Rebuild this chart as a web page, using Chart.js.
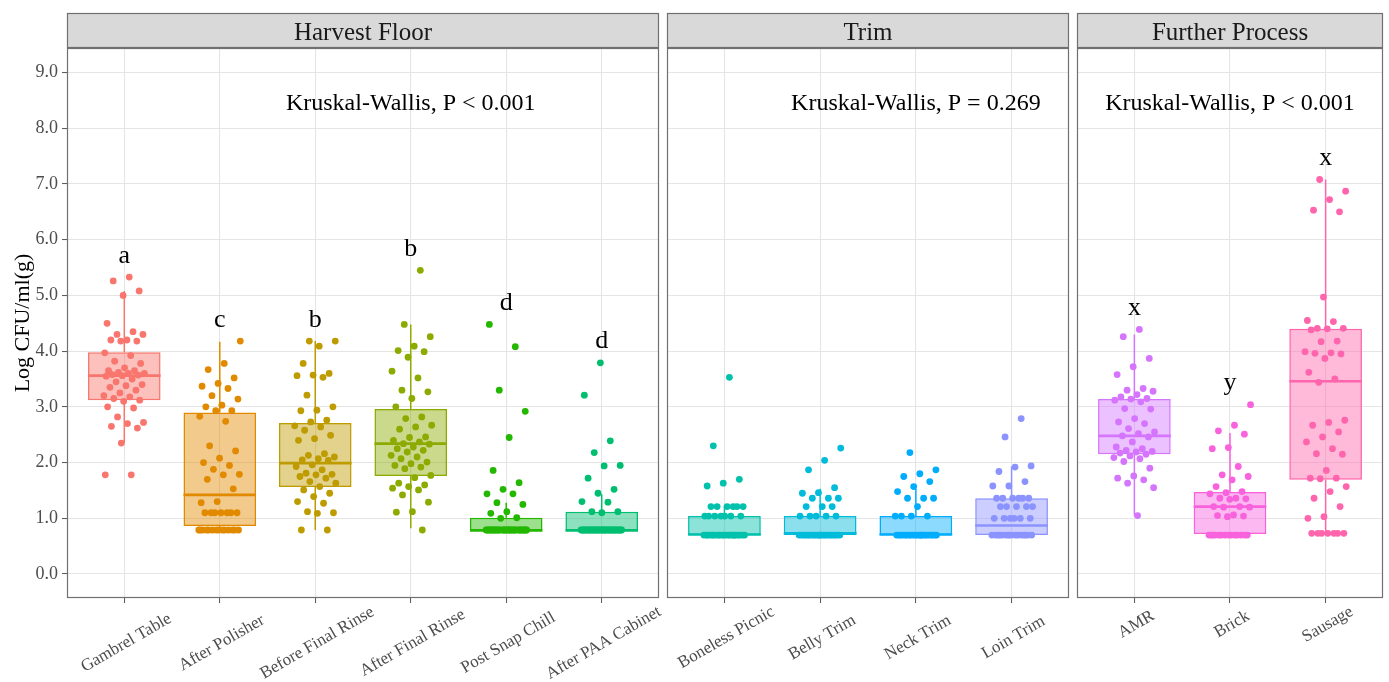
<!DOCTYPE html>
<html><head><meta charset="utf-8">
<script src="https://cdn.jsdelivr.net/npm/chart.js@4.4.0/dist/chart.umd.min.js"></script>
<style>
html,body{margin:0;padding:0;background:#fff;width:1389px;height:682px;overflow:hidden;position:relative;}
canvas{position:absolute;top:0;}
</style></head><body>
<canvas id="c1" width="700" height="682" style="left:0px"></canvas>
<canvas id="c2" width="410" height="682" style="left:663px"></canvas>
<canvas id="c3" width="316" height="682" style="left:1073px"></canvas>
<script>
// ---------- data ----------
const facetTitles = ['Harvest Floor', 'Trim', 'Further Process'];
const kruskalLabels = ['Kruskal-Wallis, P < 0.001', 'Kruskal-Wallis, P = 0.269', 'Kruskal-Wallis, P < 0.001'];
const yTickValues = [0, 1, 2, 3, 4, 5, 6, 7, 8, 9];
const yAxisTitle = 'Log CFU/ml(g)';

const harvestCategories = ['Gambrel Table', 'After Polisher', 'Before Final Rinse', 'After Final Rinse', 'Post Snap Chill', 'After PAA Cabinet'];
const trimCategories = ['Boneless Picnic', 'Belly Trim', 'Neck Trim', 'Loin Trim'];
const furtherCategories = ['AMR', 'Brick', 'Sausage'];

const gambrelTable = [5.33,5.26,5.08,5.00,4.50,4.35,4.30,4.30,4.20,4.20,4.18,4.18,3.97,3.92,3.82,3.78,3.70,3.65,3.65,3.62,3.60,3.60,3.58,3.57,3.56,3.55,3.50,3.45,3.40,3.38,3.35,3.30,3.25,3.20,3.18,3.15,3.12,3.10,3.00,2.98,2.82,2.72,2.70,2.65,2.62,2.35,1.78,1.78];
const afterPolisher = [4.18,3.78,3.67,3.52,3.42,3.37,3.33,3.20,3.14,3.03,3.00,2.93,2.93,2.83,2.74,2.30,2.21,2.08,2.00,1.95,1.88,1.79,1.78,1.70,1.53,1.30,1.28,1.10,1.10,1.10,1.10,1.10,1.10,1.10,0.79,0.79,0.79,0.79,0.79,0.79,0.79,0.79,0.79,0.79,0.79,0.79,0.79,0.79];
const beforeFinalRinse = [4.18,4.18,4.09,3.78,3.60,3.57,3.56,3.53,3.21,3.00,2.94,2.93,2.76,2.73,2.66,2.64,2.58,2.49,2.43,2.40,2.16,2.13,2.10,2.07,2.05,2.04,1.96,1.93,1.87,1.81,1.79,1.78,1.75,1.72,1.66,1.63,1.57,1.51,1.45,1.39,1.30,1.27,1.12,1.10,1.09,0.79,0.79];
const afterFinalRinse = [5.45,4.48,4.26,4.09,4.01,3.99,3.89,3.64,3.52,3.30,3.27,3.15,3.00,2.82,2.79,2.67,2.64,2.60,2.46,2.45,2.40,2.37,2.34,2.33,2.28,2.25,2.22,2.19,2.13,2.10,2.07,2.01,1.98,1.95,1.92,1.89,1.77,1.73,1.63,1.60,1.57,1.54,1.51,1.42,1.29,1.12,1.11,0.79];
const postSnapChill = [4.48,4.08,3.30,2.92,2.45,1.86,1.64,1.52,1.44,1.44,1.28,1.25,1.12,1.09,1.01,1.00,0.79,0.79,0.79,0.79,0.79,0.79,0.79,0.79,0.79,0.79,0.79,0.79,0.79,0.79,0.79,0.79,0.79,0.79,0.79,0.79,0.79,0.79,0.79,0.79,0.79,0.79,0.79,0.79,0.79,0.79,0.79,0.79];
const afterPaaCabinet = [3.79,3.21,2.39,2.18,1.95,1.94,1.72,1.52,1.45,1.30,1.29,1.12,1.12,1.10,0.79,0.79,0.79,0.79,0.79,0.79,0.79,0.79,0.79,0.79,0.79,0.79,0.79,0.79,0.79,0.79,0.79,0.79,0.79,0.79,0.79,0.79,0.79,0.79,0.79,0.79,0.79,0.79,0.79,0.79,0.79,0.79,0.79,0.79];

const bonelessPicnic = [3.53,2.30,1.70,1.63,1.58,1.21,1.21,1.21,1.21,1.21,1.21,1.04,1.04,1.04,1.04,1.04,1.04,1.04,0.70,0.70,0.70,0.70,0.70,0.70,0.70,0.70,0.70,0.70,0.70,0.70,0.70,0.70,0.70,0.70,0.70,0.70,0.70,0.70,0.70,0.70];
const bellyTrim = [2.26,2.04,1.87,1.55,1.46,1.45,1.36,1.36,1.36,1.21,1.21,1.21,1.04,1.04,1.04,1.04,1.04,0.70,0.70,0.70,0.70,0.70,0.70,0.70,0.70,0.70,0.70,0.70,0.70,0.70,0.70,0.70,0.70,0.70,0.70,0.70,0.70,0.70,0.70];
const neckTrim = [2.18,1.87,1.80,1.75,1.66,1.57,1.48,1.36,1.36,1.36,1.21,1.04,1.04,1.04,1.04,0.70,0.70,0.70,0.70,0.70,0.70,0.70,0.70,0.70,0.70,0.70,0.70,0.70,0.70,0.70,0.70,0.70,0.70,0.70,0.70,0.70,0.70];
const loinTrim = [2.79,2.46,1.94,1.92,1.84,1.66,1.58,1.58,1.36,1.36,1.36,1.36,1.36,1.36,1.21,1.21,1.21,1.21,1.21,1.00,1.00,1.00,1.00,1.00,1.00,0.70,0.70,0.70,0.70,0.70,0.70,0.70,0.70,0.70,0.70,0.70,0.70,0.70,0.70,0.70,0.70];

const amr = [4.39,4.26,3.87,3.72,3.58,3.33,3.30,3.28,3.22,3.18,3.15,3.14,3.12,3.09,2.97,2.96,2.79,2.73,2.70,2.61,2.55,2.52,2.48,2.46,2.37,2.28,2.25,2.22,2.20,2.19,2.17,2.15,2.12,2.09,2.07,2.02,1.90,1.76,1.72,1.69,1.63,1.55,1.05];
const brick = [3.04,2.67,2.57,2.51,2.27,2.25,1.93,1.78,1.75,1.69,1.57,1.48,1.46,1.44,1.36,1.36,1.35,1.34,1.21,1.21,1.20,1.20,1.06,1.05,1.04,1.03,0.70,0.70,0.70,0.70,0.70,0.70,0.70,0.70,0.70,0.70,0.70,0.70,0.70,0.70];
const sausage = [7.08,6.87,6.72,6.53,6.50,4.97,4.55,4.53,4.41,4.41,4.40,4.38,4.18,4.17,3.99,3.97,3.96,3.95,3.87,3.62,3.50,3.44,2.76,2.72,2.67,2.55,2.46,2.37,2.25,2.16,2.15,1.86,1.72,1.72,1.71,1.57,1.48,1.36,1.21,1.03,1.00,0.73,0.73,0.73,0.73,0.73,0.73,0.73];

// box statistics
const harvestLowerWhisker = [2.35, 0.79, 0.79, 0.82, 0.78, 0.78];
const harvestQ1           = [3.12, 0.86, 1.56, 1.76, 0.78, 0.78];
const harvestMedian       = [3.56, 1.42, 1.99, 2.34, 0.78, 0.78];
const harvestQ3           = [3.98, 2.90, 2.71, 2.96, 1.01, 1.12];
const harvestUpperWhisker = [5.08, 4.17, 4.18, 4.48, 1.28, 1.43];
const harvestLetters      = ['a', 'c', 'b', 'b', 'd', 'd'];

const trimLowerWhisker = [0.70, 0.70, 0.70, 0.70];
const trimQ1           = [0.70, 0.70, 0.70, 0.70];
const trimMedian       = [0.71, 0.73, 0.71, 0.87];
const trimQ3           = [1.04, 1.04, 1.04, 1.36];
const trimUpperWhisker = [1.21, 1.53, 1.53, 1.93];
const trimLetters      = ['', '', '', ''];

const furtherLowerWhisker = [1.05, 0.72, 0.72];
const furtherQ1           = [2.15, 0.72, 1.69];
const furtherMedian       = [2.48, 1.21, 3.46];
const furtherQ3           = [3.14, 1.47, 4.40];
const furtherUpperWhisker = [4.30, 2.53, 7.08];
const furtherLetters      = ['x', 'y', 'x'];

// ---------- styles ----------
const palette = ['#F8766D','#E18A00','#BE9C00','#8CAB00','#24B700','#00BE70','#00C1AB','#00BBDA','#00ACFC','#8B93FF','#D575FE','#F962DD','#FF65AC'];
const SERIF = '"Liberation Serif", "Times New Roman", serif';
const BOX_HALF = 0.38;
const JITTER = 0.22;
const Y_MIN = -0.43, Y_MAX = 9.44;
const KRUSKAL_Y = 8.33;
const LETTER_GAP = 0.26;
const GRID = '#E5E5E5';
const FRAME = '#707070';

Chart.defaults.font.family = SERIF;

function rgba(hex, a) {
  const n = parseInt(hex.slice(1), 16);
  return 'rgba(' + (n >> 16) + ',' + ((n >> 8) & 255) + ',' + (n & 255) + ',' + a + ')';
}
function jitter(i, j) {
  const f = ((j + 1) * 0.6180339887 + i * 0.37) % 1;
  return (f - 0.5) * 2 * JITTER;
}

const facetDecor = {
  id: 'facetDecor',
  afterDatasetsDraw(chart, args, o) {
    const ctx = chart.ctx, xs = chart.scales.x, ys = chart.scales.y;
    ctx.save();
    ctx.fillStyle = '#000';
    ctx.textAlign = 'center';
    ctx.textBaseline = 'alphabetic';
    ctx.font = '26px ' + SERIF;
    o.letters.forEach((l, i) => {
      if (!l) return;
      const top = Math.max.apply(null, o.values[i]);
      ctx.fillText(l, xs.getPixelForValue(i), ys.getPixelForValue(top + LETTER_GAP));
    });
    ctx.font = '24px ' + SERIF;
    ctx.fillText(o.kruskal, xs.getPixelForValue(Math.floor(o.cats.length / 2)), ys.getPixelForValue(KRUSKAL_Y));
    ctx.restore();
  },
  afterDraw(chart, args, o) {
    const ctx = chart.ctx, a = chart.chartArea, xs = chart.scales.x;
    ctx.save();
    // panel frame
    ctx.strokeStyle = FRAME; ctx.lineWidth = 1.2;
    ctx.strokeRect(a.left + 0.5, a.top + 0.5, a.right - a.left - 1, a.bottom - a.top - 1);
    // strip
    const sTop = 13;
    ctx.fillStyle = '#D9D9D9';
    ctx.fillRect(a.left, sTop, a.right - a.left, a.top - sTop);
    ctx.strokeRect(a.left + 0.5, sTop + 0.5, a.right - a.left - 1, a.top - sTop - 1);
    ctx.fillStyle = '#1a1a1a';
    ctx.font = '25px ' + SERIF;
    ctx.textAlign = 'center'; ctx.textBaseline = 'alphabetic';
    ctx.fillText(o.title, (a.left + a.right) / 2, 39.5);
    // rotated category labels, centred under the tick, all labels of a panel share one centre line
    ctx.font = '17px ' + SERIF;
    ctx.fillStyle = '#4d4d4d';
    ctx.textBaseline = 'middle';
    const topY = a.bottom + 6, h = 15;
    const Lmax = Math.max.apply(null, o.cats.map(c => ctx.measureText(c).width));
    const cy = topY + (0.5 * Lmax + 0.866 * h) / 2;
    o.cats.forEach((c, i) => {
      const cx = xs.getPixelForValue(i) + 2;
      ctx.save();
      ctx.translate(cx, cy);
      ctx.rotate(-Math.PI / 6);
      ctx.fillText(c, 0, 0);
      ctx.restore();
    });
    ctx.restore();
  }
};

function makeFacet(id, f) {
  const n = f.cats.length;
  const datasets = [];
  f.values.forEach((vals, i) => {
    datasets.push({
      type: 'scatter', order: 0,
      data: vals.map((v, j) => ({ x: i + jitter(i, j), y: v })),
      backgroundColor: f.colors[i], borderWidth: 0, pointRadius: 3.4, pointHoverRadius: 3.4
    });
  });
  f.cats.forEach((c, i) => {
    datasets.push({
      type: 'line', order: 1,
      data: [{ x: i - BOX_HALF, y: f.med[i] }, { x: i + BOX_HALF, y: f.med[i] }],
      borderColor: f.colors[i], borderWidth: 2.6, pointRadius: 0, borderCapStyle: 'butt'
    });
    datasets.push({
      type: 'line', order: 2, spanGaps: false,
      data: [{ x: i, y: f.hi[i] }, { x: i, y: f.q3[i] }, { x: i, y: null }, { x: i, y: f.q1[i] }, { x: i, y: f.lo[i] }],
      borderColor: f.colors[i], borderWidth: 1.5, pointRadius: 0
    });
  });
  datasets.push({
    type: 'bar', order: 3,
    data: f.cats.map((c, i) => ({ x: i, y: [f.q1[i], f.q3[i]] })),
    backgroundColor: f.colors.map(c => rgba(c, 0.45)),
    borderColor: f.colors, borderWidth: 1.5, borderSkipped: false,
    barPercentage: 2 * BOX_HALF, categoryPercentage: 1
  });

  new Chart(document.getElementById(id), {
    type: 'scatter',
    data: { datasets },
    options: {
      responsive: false, animation: false, events: [],
      layout: { padding: { left: f.padLeft, right: f.padRight, top: 48, bottom: 0 } },
      plugins: { legend: { display: false }, tooltip: { enabled: false }, facetDecor: f },
      scales: {
        x: {
          type: 'linear', min: -0.6, max: n - 0.4, offset: false,
          afterBuildTicks: s => { s.ticks = f.cats.map((c, i) => ({ value: i })); },
          ticks: { display: false },
          grid: { color: GRID, lineWidth: 1.1, offset: false, drawTicks: true, tickLength: 5, tickColor: '#555', tickWidth: 1 },
          border: { display: false },
          afterFit: s => { s.height = 84; }
        },
        y: {
          type: 'linear', min: Y_MIN, max: Y_MAX,
          afterBuildTicks: s => { s.ticks = yTickValues.map(v => ({ value: v })); },
          ticks: { display: f.showY, color: '#4d4d4d', font: { size: 18, family: SERIF }, padding: 4, callback: v => v.toFixed(1) },
          grid: { color: GRID, lineWidth: 1.1, drawTicks: f.showY, tickLength: 5, tickColor: '#555', tickWidth: 1 },
          border: { display: false },
          title: { display: f.showY, text: yAxisTitle, color: '#000', font: { size: 22, family: SERIF }, padding: { top: 10, bottom: 0 } },
          afterFit: s => { s.width = f.showY ? 67 : 0; }
        }
      }
    },
    plugins: [facetDecor]
  });
}

makeFacet('c1', {
  title: facetTitles[0], kruskal: kruskalLabels[0], cats: harvestCategories,
  values: [gambrelTable, afterPolisher, beforeFinalRinse, afterFinalRinse, postSnapChill, afterPaaCabinet],
  lo: harvestLowerWhisker, q1: harvestQ1, med: harvestMedian, q3: harvestQ3, hi: harvestUpperWhisker,
  letters: harvestLetters, colors: palette.slice(0, 6), showY: true, padLeft: 0, padRight: 41
});
makeFacet('c2', {
  title: facetTitles[1], kruskal: kruskalLabels[1], cats: trimCategories,
  values: [bonelessPicnic, bellyTrim, neckTrim, loinTrim],
  lo: trimLowerWhisker, q1: trimQ1, med: trimMedian, q3: trimQ3, hi: trimUpperWhisker,
  letters: trimLetters, colors: palette.slice(6, 10), showY: false, padLeft: 4, padRight: 4
});
makeFacet('c3', {
  title: facetTitles[2], kruskal: kruskalLabels[2], cats: furtherCategories,
  values: [amr, brick, sausage],
  lo: furtherLowerWhisker, q1: furtherQ1, med: furtherMedian, q3: furtherQ3, hi: furtherUpperWhisker,
  letters: furtherLetters, colors: palette.slice(10, 13), showY: false, padLeft: 4, padRight: 6
});
</script>
</body></html>
